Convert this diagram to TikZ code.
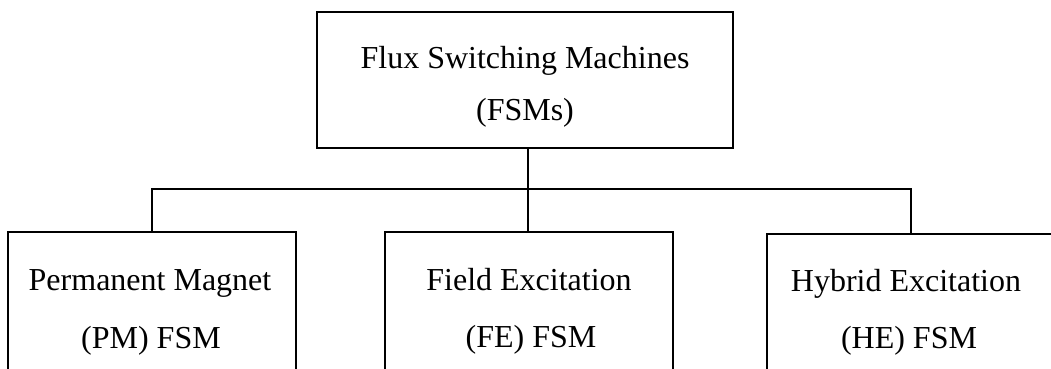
\documentclass[tikz,border=0pt]{standalone}
\usepackage{fontspec}
\setmainfont{Liberation Serif}
\begin{document}
\begin{tikzpicture}[x=1pt,y=-1pt,
  box/.style={draw=black,line width=2pt,rectangle,inner sep=0pt},
  wire/.style={draw=black,line width=2.6pt},
  lbl/.style={font=\fontsize{32}{52}\selectfont,inner sep=0pt,anchor=base,align=center}]
\useasboundingbox (0,0) rectangle (1051,368);
\node[box,minimum width=416pt,minimum height=136pt] (top) at (525,80) {};
\node[box,minimum width=288pt,minimum height=190pt] (pm) at (152,327) {};
\node[box,minimum width=288pt,minimum height=190pt] (fe) at (529,327) {};
\node[box,minimum width=288pt,minimum height=190pt] (he) at (911,329) {};
\coordinate (bus) at (528,189);
\node[lbl] (ttop1) at (525,68) {Flux Switching Machines};
\node[lbl] (ttop2) at (525,120) {(FSMs)};
\node[lbl] (tpm1) at (150,290) {Permanent Magnet};
\node[lbl] (tpm2) at (151,348) {(PM) FSM};
\node[lbl] (tfe1) at (529,290) {Field Excitation};
\node[lbl] (tfe2) at (531,347) {(FE) FSM};
\node[lbl] (the1) at (906,291) {Hybrid Excitation};
\node[lbl] (the2) at (909,348) {(HE) FSM};
\draw[wire] (top.south -| bus) -- (bus);
\draw[wire] (pm.north) -- (pm.north |- bus) -- (he.north |- bus) -- (he.north);
\draw[wire] (bus) -- (fe.north -| bus);
\end{tikzpicture}
\end{document}
